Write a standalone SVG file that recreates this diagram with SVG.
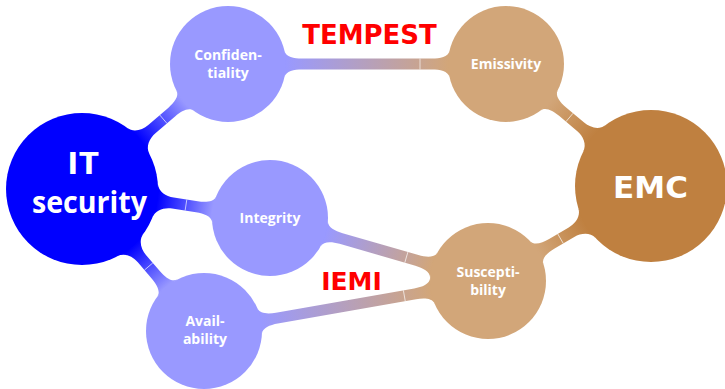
<svg xmlns="http://www.w3.org/2000/svg" width="725" height="389" viewBox="0 0 725 389">
<style>
.t{font-family:"Open Sans","DejaVu Sans",sans-serif;font-weight:bold;fill:#ffffff;text-anchor:middle}
.s{font-size:14px}
.b{font-size:30px}
.dv{font-family:"DejaVu Sans",sans-serif;font-weight:bold;text-anchor:middle}
.lbl{fill:#ff0000}
.seam{stroke:#ffffff;stroke-width:0.7;stroke-opacity:0.9}
.blue{fill:#0000ff}
.lb{fill:#9999ff}
.tan{fill:#d2a679}
.brown{fill:#bf8040}
</style>
<defs>
<linearGradient id="gBL"><stop offset="0" stop-color="#0000ff"/><stop offset="1" stop-color="#9999ff"/></linearGradient>
<linearGradient id="gLT"><stop offset="0" stop-color="#9999ff"/><stop offset="1" stop-color="#d2a679"/></linearGradient>
<linearGradient id="gTB"><stop offset="0" stop-color="#d2a679"/><stop offset="1" stop-color="#bf8040"/></linearGradient>
<linearGradient id="gBT"><stop offset="0" stop-color="#bf8040"/><stop offset="1" stop-color="#d2a679"/></linearGradient>
<linearGradient id="c1" href="#gBL" gradientUnits="userSpaceOnUse" x1="76" y1="0" x2="134.2" y2="0"/>
<linearGradient id="c2" href="#gBL" gradientUnits="userSpaceOnUse" x1="76" y1="0" x2="132.2" y2="0"/>
<linearGradient id="c3" href="#gBL" gradientUnits="userSpaceOnUse" x1="76" y1="0" x2="129.2" y2="0"/>
<linearGradient id="c4" href="#gLT" gradientUnits="userSpaceOnUse" x1="58" y1="0" x2="220" y2="0"/>
<linearGradient id="c5" href="#gTB" gradientUnits="userSpaceOnUse" x1="58" y1="0" x2="113.5" y2="0"/>
<linearGradient id="c6" href="#gBT" gradientUnits="userSpaceOnUse" x1="76" y1="0" x2="130.7" y2="0"/>
<linearGradient id="c7" href="#gLT" gradientUnits="userSpaceOnUse" x1="58" y1="0" x2="168.9" y2="0"/>
<linearGradient id="c8" href="#gLT" gradientUnits="userSpaceOnUse" x1="58" y1="0" x2="230.4" y2="0"/>
</defs>

<g id="connectors">
  <g id="it-conf" transform="translate(82,189) rotate(-40.6)">
    <path fill="url(#c1)" d="M74.05,-17.1 C75.85,-9.3 84,-5.5 92,-5.5 L118.2,-5.5 C126.2,-5.5 134.34,-7.2 135.69,-13.05 L135.69,13.05 C134.34,7.2 126.2,5.5 118.2,5.5 L92,5.5 C84,5.5 75.85,9.3 74.05,17.1 Z"/>
    <line class="seam" x1="107.2" y1="-5.5" x2="107.2" y2="5.5"/>
  </g>
  <g id="it-integ" transform="translate(82,189) rotate(8.77)">
    <path fill="url(#c2)" d="M74.05,-17.1 C75.85,-9.3 84,-5.5 92,-5.5 L116.2,-5.5 C124.2,-5.5 132.34,-7.2 133.69,-13.05 L133.69,13.05 C132.34,7.2 124.2,5.5 116.2,5.5 L92,5.5 C84,5.5 75.85,9.3 74.05,17.1 Z"/>
    <line class="seam" x1="105.2" y1="-5.5" x2="105.2" y2="5.5"/>
  </g>
  <g id="it-avail" transform="translate(82,189) rotate(49.3)">
    <path fill="url(#c3)" d="M74.05,-17.1 C75.85,-9.3 84,-5.5 92,-5.5 L113.2,-5.5 C121.2,-5.5 129.34,-7.2 130.69,-13.05 L130.69,13.05 C129.34,7.2 121.2,5.5 113.2,5.5 L92,5.5 C84,5.5 75.85,9.3 74.05,17.1 Z"/>
    <line class="seam" x1="102.2" y1="-5.5" x2="102.2" y2="5.5"/>
  </g>
  <g id="conf-emis" transform="translate(228,64)">
    <path fill="url(#c4)" d="M56.51,-13.05 C57.86,-7.2 66,-5.5 74,-5.5 L204,-5.5 C212,-5.5 220.14,-7.2 221.49,-13.05 L221.49,13.05 C220.14,7.2 212,5.5 204,5.5 L74,5.5 C66,5.5 57.86,7.2 56.51,13.05 Z"/>
    <line class="seam" x1="192" y1="-5.5" x2="192" y2="5.5"/>
  </g>
  <g id="emis-emc" transform="translate(506,64) rotate(40.1)">
    <path fill="url(#c5)" d="M56.51,-13.05 C57.86,-7.2 66,-5.5 74,-5.5 L97.5,-5.5 C105.5,-5.5 113.65,-9.3 115.45,-17.1 L115.45,17.1 C113.65,9.3 105.5,5.5 97.5,5.5 L74,5.5 C66,5.5 57.86,7.2 56.51,13.05 Z"/>
    <line class="seam" x1="83" y1="-5.5" x2="83" y2="5.5"/>
  </g>
  <g id="emc-susc" transform="translate(651,186) rotate(149.8)">
    <path fill="url(#c6)" d="M74.05,-17.1 C75.85,-9.3 84,-5.5 92,-5.5 L114.7,-5.5 C122.7,-5.5 130.84,-7.2 132.19,-13.05 L132.19,13.05 C130.84,7.2 122.7,5.5 114.7,5.5 L92,5.5 C84,5.5 75.85,9.3 74.05,17.1 Z"/>
    <line class="seam" x1="104.7" y1="-5.5" x2="104.7" y2="5.5"/>
  </g>
  <g id="integ-susc" transform="translate(270,218) rotate(16.1)">
    <path fill="url(#c7)" d="M56.51,-13.05 C57.86,-7.2 66,-5.5 74,-5.5 L152.9,-5.5 C160.9,-5.5 169.04,-7.2 170.39,-13.05 L170.39,13.05 C169.04,7.2 160.9,5.5 152.9,5.5 L74,5.5 C66,5.5 57.86,7.2 56.51,13.05 Z"/>
    <line class="seam" x1="141.9" y1="-5.5" x2="141.9" y2="5.5"/>
  </g>
  <g id="avail-susc" transform="translate(204,331) rotate(-9.98)">
    <path fill="url(#c8)" d="M56.51,-13.05 C57.86,-7.2 66,-5.5 74,-5.5 L214.4,-5.5 C222.4,-5.5 230.54,-7.2 231.89,-13.05 L231.89,13.05 C230.54,7.2 222.4,5.5 214.4,5.5 L74,5.5 C66,5.5 57.86,7.2 56.51,13.05 Z"/>
    <line class="seam" x1="203.4" y1="-5.5" x2="203.4" y2="5.5"/>
  </g>
</g>

<g id="it-security">
  <circle class="blue" cx="82" cy="189" r="76"/>
  <text class="t b" x="83" y="174" textLength="32" lengthAdjust="spacingAndGlyphs">IT</text>
  <text class="t b" x="89.5" y="213" textLength="115" lengthAdjust="spacingAndGlyphs">security</text>
</g>
<g id="confidentiality">
  <circle class="lb" cx="228" cy="64" r="58"/>
  <text class="t s" x="228" y="60">Confiden-</text>
  <text class="t s" x="228" y="78">tiality</text>
</g>
<g id="integrity">
  <circle class="lb" cx="270" cy="218" r="58"/>
  <text class="t s" x="270" y="223">Integrity</text>
</g>
<g id="availability">
  <circle class="lb" cx="204" cy="331" r="58"/>
  <text class="t s" x="205" y="326">Avail-</text>
  <text class="t s" x="205" y="344">ability</text>
</g>
<g id="emissivity">
  <circle class="tan" cx="506" cy="64" r="58"/>
  <text class="t s" x="506" y="69">Emissivity</text>
</g>
<g id="susceptibility">
  <circle class="tan" cx="488" cy="281" r="58"/>
  <text class="t s" x="488" y="277">Suscepti-</text>
  <text class="t s" x="488" y="295">bility</text>
</g>
<g id="emc">
  <circle class="brown" cx="651" cy="186" r="76"/>
  <text class="dv" x="650.5" y="198" font-size="31" fill="#ffffff">EMC</text>
</g>

<g id="labels">
  <text class="dv lbl" x="369.5" y="44" font-size="26">TEMPEST</text>
  <text class="dv lbl" x="351.5" y="290" font-size="25">IEMI</text>
</g>
</svg>
